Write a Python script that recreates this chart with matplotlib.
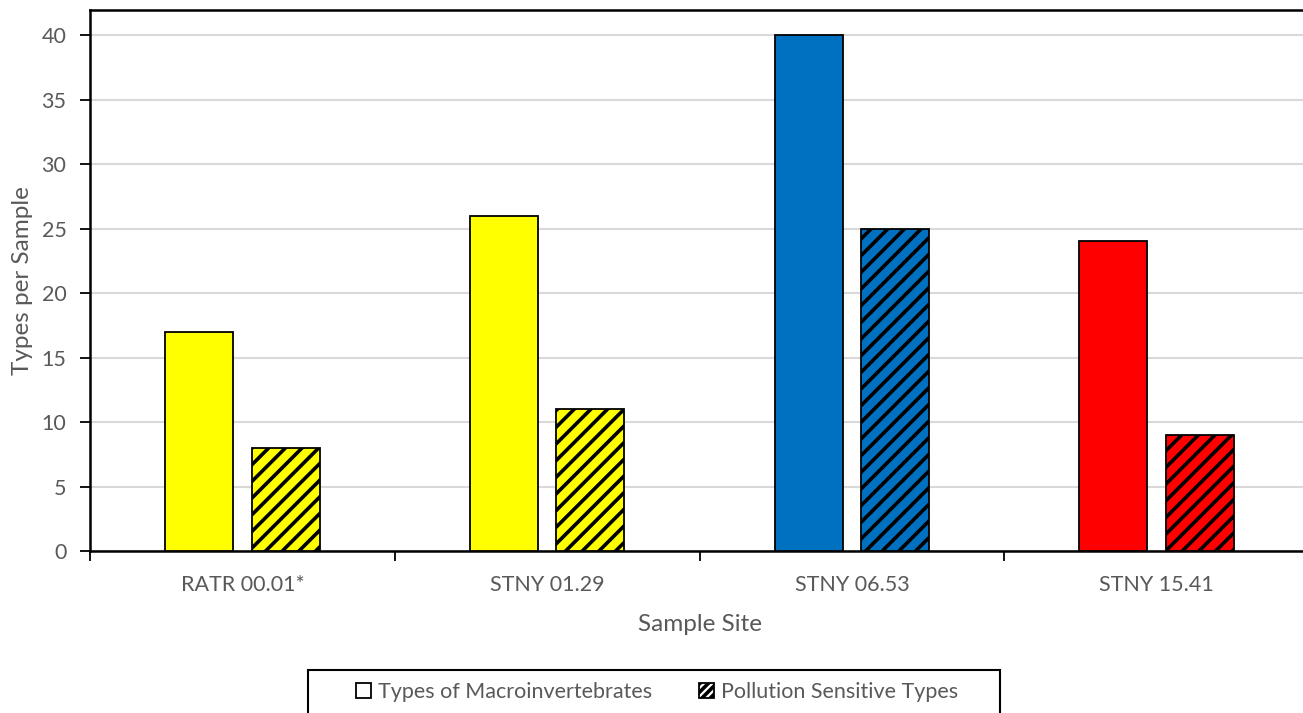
import matplotlib
matplotlib.use("Agg")
import matplotlib.pyplot as plt
from matplotlib.patches import Patch, Rectangle
import numpy as np

sites = ["RATR 00.01*", "STNY 01.29", "STNY 06.53", "STNY 15.41"]
all_types = [17, 26, 40, 24]
sensitive_types = [8, 11, 25, 9]
site_colors = ["#FFFF00", "#FFFF00", "#0070C0", "#FF0000"]

plt.rcParams["font.family"] = ["Lato", "DejaVu Sans"]
plt.rcParams["hatch.linewidth"] = 2.6
plt.rcParams["hatch.color"] = "black"

grey = "#595959"

fig = plt.figure(figsize=(13.03, 7.13), dpi=100)
ax = fig.add_axes([90 / 1303, 1 - 551 / 713, (1309 - 90) / 1303, (551 - 10) / 713])

x = np.arange(len(sites))
w = 0.223
off = 0.142
ax.bar(x - off, all_types, w, color=site_colors, edgecolor="black", linewidth=1.3, zorder=3)
ax.bar(x + off, sensitive_types, w, color=site_colors, edgecolor="black", linewidth=1.3,
       hatch="//", zorder=3)

ax.set_xlim(-0.5, 3.5)
ax.set_ylim(0, 41.95)
ax.set_yticks(range(0, 41, 5))
ax.yaxis.grid(True, color="#d9d9d9", linewidth=1.5, zorder=0)
ax.set_axisbelow(True)

# category labels at centres, tick marks between categories
ax.set_xticks(x)
ax.set_xticklabels(sites)
ax.set_xticks(np.arange(-0.5, 3.6, 1.0), minor=True)
ax.tick_params(axis="x", which="major", length=0, pad=17, labelsize=15.5, labelcolor=grey)
ax.tick_params(axis="x", which="minor", length=7, width=1.3, direction="out")
ax.tick_params(axis="y", length=7, width=1.3, direction="out", pad=10,
               labelsize=15.5, labelcolor=grey)

for side in ["left", "top", "bottom"]:
    ax.spines[side].set_linewidth(1.8)
    ax.spines[side].set_color("black")
ax.spines["right"].set_visible(False)

ax.set_xlabel("Sample Site", fontsize=17.5, color=grey, labelpad=14)
ax.set_ylabel("Types per Sample", fontsize=17.5, color=grey, labelpad=6)

# legend box below the chart
fig.patches.append(Rectangle((308 / 1303, 1 - 716 / 713), 692 / 1303, 46 / 713,
                             transform=fig.transFigure, facecolor="white",
                             edgecolor="black", linewidth=1.5))
handles = [Patch(facecolor="white", edgecolor="black", linewidth=1.3),
           Patch(facecolor="white", edgecolor="black", linewidth=1.3, hatch="////")]
fig.legend(handles, ["Types of Macroinvertebrates", "Pollution Sensitive Types"],
           loc="center", bbox_to_anchor=(657 / 1303, 1 - 692 / 713), ncol=2,
           frameon=False, fontsize=15.5, labelcolor=grey, handlelength=0.7,
           handleheight=0.7, handletextpad=0.3, columnspacing=2.2)

fig.savefig("out.png", dpi=100)
